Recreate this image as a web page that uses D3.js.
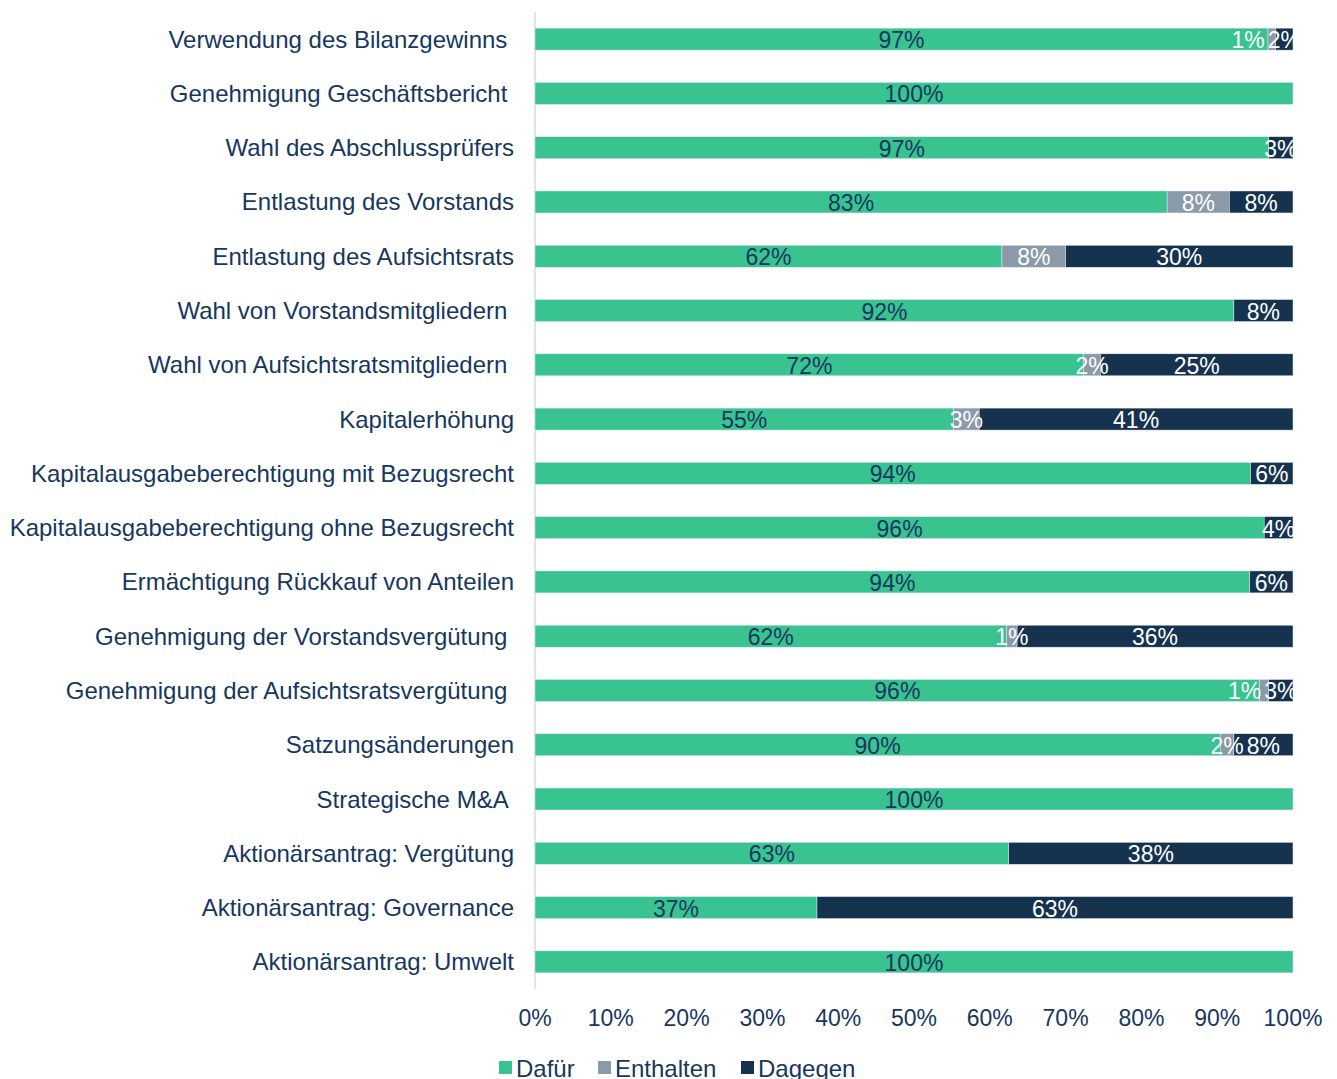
<!DOCTYPE html>
<html>
<head>
<meta charset="utf-8">
<script src="https://cdn.jsdelivr.net/npm/d3@7"></script>
<style>
  body { margin: 0; background: #fff; }
  text { font-family: "Liberation Sans", Arial, sans-serif; }
</style>
</head>
<body>
<div id="chart"></div>
<script>
// categories (trailing spaces kept as in the original labels)
var categories = [
    "Verwendung des Bilanzgewinns ",
    "Genehmigung Geschäftsbericht ",
    "Wahl des Abschlussprüfers",
    "Entlastung des Vorstands",
    "Entlastung des Aufsichtsrats",
    "Wahl von Vorstandsmitgliedern ",
    "Wahl von Aufsichtsratsmitgliedern ",
    "Kapitalerhöhung",
    "Kapitalausgabeberechtigung mit Bezugsrecht",
    "Kapitalausgabeberechtigung ohne Bezugsrecht",
    "Ermächtigung Rückkauf von Anteilen",
    "Genehmigung der Vorstandsvergütung ",
    "Genehmigung der Aufsichtsratsvergütung ",
    "Satzungsänderungen",
    "Strategische M&A ",
    "Aktionärsantrag: Vergütung",
    "Aktionärsantrag: Governance",
    "Aktionärsantrag: Umwelt"
];

var seriesNames = ["Dafür", "Enthalten", "Dagegen"];

var dafuer    = [96.7, 100, 96.8, 83.4, 61.6, 92.2, 72.4, 55.2, 94.4, 96.2, 94.3, 62.2, 95.6, 90.4, 100, 62.5, 37.2, 100];
var enthalten = [1.0, 0, 0, 8.2, 8.4, 0, 2.2, 3.4, 0, 0, 0, 1.4, 1.2, 1.8, 0, 0, 0, 0];
var dagegen   = [2.3, 0, 3.2, 8.4, 30.0, 7.8, 25.4, 41.4, 5.6, 3.8, 5.7, 36.4, 3.2, 7.8, 0, 37.5, 62.8, 0];

var tickValues = [0, 10, 20, 30, 40, 50, 60, 70, 80, 90, 100];

var colors = ["#38c391", "#8b9aa8", "#15324f"];
var labelColors = ["#17375e", "#ffffff", "#ffffff"];
var textColor = "#17375e";

var width = 1337, height = 1079;
var plot = { left: 535, right: 1293, top: 12, bottom: 989 };

var svg = d3.select("#chart")
    .append("svg")
    .attr("width", width)
    .attr("height", height);

var x = d3.scaleLinear()
    .domain([0, 100])
    .range([plot.left, plot.right]);

var y = d3.scaleBand()
    .domain(categories)
    .range([plot.top, plot.bottom])
    .paddingInner(0.595)
    .paddingOuter(0.2975);

var rows = categories.map(function (c, i) {
    return { cat: c, "Dafür": dafuer[i], "Enthalten": enthalten[i], "Dagegen": dagegen[i] };
});

var stacked = d3.stack().keys(seriesNames)(rows);

svg.append("defs")
    .append("clipPath")
    .attr("id", "plotClip")
    .append("rect")
    .attr("x", 0)
    .attr("y", 0)
    .attr("width", plot.right)
    .attr("height", height);

// axis line
svg.append("line")
    .attr("x1", x(0))
    .attr("x2", x(0))
    .attr("y1", plot.top)
    .attr("y2", plot.bottom)
    .attr("stroke", "#cddcee")
    .attr("stroke-width", 1.5);

// bars
svg.selectAll("g.series")
    .data(stacked)
    .enter()
    .append("g")
    .attr("class", "series")
    .attr("fill", function (d, i) { return colors[i]; })
    .selectAll("rect")
    .data(function (d) { return d; })
    .enter()
    .append("rect")
    .attr("x", function (d) { return x(d[0]); })
    .attr("y", function (d) { return y(d.data.cat); })
    .attr("width", function (d) { return x(d[1]) - x(d[0]); })
    .attr("height", y.bandwidth())
    .attr("stroke", "#e3e9ef")
    .attr("stroke-width", 0.5);

// value labels
var fontSize = 23;
var catFontSize = 24;
var labelLayer = svg.append("g").attr("clip-path", "url(#plotClip)");

categories.forEach(function (c, i) {
    var labels = [];
    stacked.forEach(function (s, k) {
        var d = s[i];
        var v = d[1] - d[0];
        if (v <= 0) return;
        var t = labelLayer.append("text")
            .attr("x", x((d[0] + d[1]) / 2))
            .attr("y", y(c) + y.bandwidth() / 2 + 1)
            .attr("text-anchor", "middle")
            .attr("dominant-baseline", "central")
            .attr("font-size", fontSize)
            .attr("fill", labelColors[k])
            .text(Math.round(v) + "%");
        labels.push(t);
    });
    // push overlapping labels to the left
    for (var j = labels.length - 2; j >= 0; j--) {
        var a = labels[j].node().getBBox();
        var b = labels[j + 1].node().getBBox();
        if (a.x + a.width > b.x) {
            var shift = a.x + a.width - b.x + 3;
            labels[j].attr("x", +labels[j].attr("x") - shift);
        }
    }
});

// category labels
svg.selectAll("text.cat")
    .data(categories)
    .enter()
    .append("text")
    .attr("class", "cat")
    .attr("x", plot.left - 21)
    .attr("y", function (d) { return y(d) + y.bandwidth() / 2; })
    .attr("text-anchor", "end")
    .attr("dominant-baseline", "central")
    .attr("font-size", catFontSize)
    .attr("fill", textColor)
    .style("white-space", "pre")
    .text(function (d) { return d; });

// x axis ticks
svg.selectAll("text.tick")
    .data(tickValues)
    .enter()
    .append("text")
    .attr("class", "tick")
    .attr("x", function (d) { return x(d); })
    .attr("y", 1018)
    .attr("text-anchor", "middle")
    .attr("dominant-baseline", "central")
    .attr("font-size", fontSize)
    .attr("fill", textColor)
    .text(function (d) { return d + "%"; });

// legend
var legendX = [499, 598, 741];
var legend = svg.selectAll("g.legend")
    .data(seriesNames)
    .enter()
    .append("g")
    .attr("class", "legend")
    .attr("transform", function (d, i) { return "translate(" + legendX[i] + ",1067)"; });

legend.append("rect")
    .attr("x", 0)
    .attr("y", -6)
    .attr("width", 13)
    .attr("height", 13)
    .attr("fill", function (d, i) { return colors[i]; });

legend.append("text")
    .attr("x", 17)
    .attr("y", 1)
    .attr("dominant-baseline", "central")
    .attr("font-size", catFontSize)
    .attr("fill", textColor)
    .text(function (d) { return d; });
</script>
</body>
</html>
